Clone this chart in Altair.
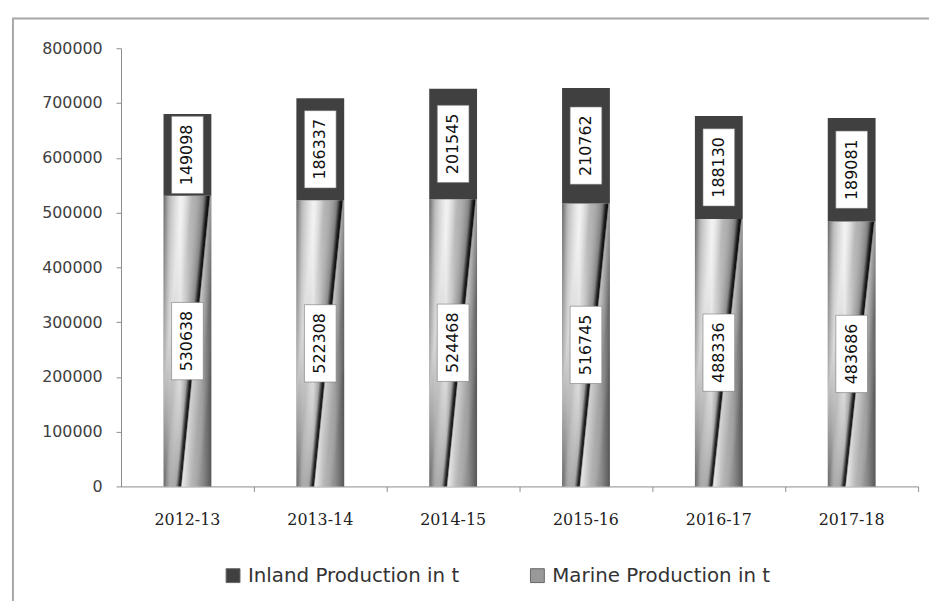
import altair as alt
import pandas as pd

years = ["2012-13", "2013-14", "2014-15", "2015-16", "2016-17", "2017-18"]
marine = [530638, 522308, 524468, 516745, 488336, 483686]
inland = [149098, 186337, 201545, 210762, 188130, 189081]
series_names = ["Inland Production in t", "Marine Production in t"]
y_ticks = [0, 100000, 200000, 300000, 400000, 500000, 600000, 700000, 800000]

wide = pd.DataFrame({"year": years, "marine": marine, "inland": inland})
wide["total"] = wide["marine"] + wide["inland"]
wide["series"] = series_names[0]

labels = pd.DataFrame({
    "year": years * 2,
    "value": inland + marine,
    "mid": [m + i / 2 for m, i in zip(marine, inland)] + [m / 2 for m in marine],
})

x_enc = alt.X(
    "year:N", sort=years,
    scale=alt.Scale(paddingInner=0.64, paddingOuter=0.32),
    axis=alt.Axis(title=None, labelAngle=0, bandPosition=1.889, tickSize=5,
                  labelFont="DejaVu Serif", labelFontSize=16, labelColor="#222222",
                  labelPadding=20, domainColor="#8c8c8c", tickColor="#8c8c8c"),
)
y_scale = alt.Scale(domain=[0, 800000], nice=False)

horiz = alt.Gradient(
    gradient="linear", x1=0, x2=1, y1=0, y2=0,
    stops=[
        alt.GradientStop(offset=0, color="#666666"),
        alt.GradientStop(offset=0.12, color="#aaaaaa"),
        alt.GradientStop(offset=0.35, color="#e4e4e4"),
        alt.GradientStop(offset=0.55, color="#b8b8b8"),
        alt.GradientStop(offset=0.8, color="#a0a0a0"),
        alt.GradientStop(offset=1, color="#606060"),
    ],
)
diag = alt.Gradient(
    gradient="linear", x1=0, y1=0, x2=1, y2=0.6,
    stops=[
        alt.GradientStop(offset=0, color="rgba(255,255,255,0)"),
        alt.GradientStop(offset=0.3, color="rgba(255,255,255,0.55)"),
        alt.GradientStop(offset=0.45, color="rgba(255,255,255,0)"),
        alt.GradientStop(offset=0.63, color="rgba(0,0,0,0.2)"),
        alt.GradientStop(offset=0.685, color="rgba(0,0,0,0.85)"),
        alt.GradientStop(offset=0.705, color="rgba(0,0,0,0.85)"),
        alt.GradientStop(offset=0.73, color="rgba(255,255,255,0.35)"),
        alt.GradientStop(offset=0.88, color="rgba(255,255,255,0)"),
        alt.GradientStop(offset=1, color="rgba(0,0,0,0.1)"),
    ],
)

frame = alt.Chart(pd.DataFrame({"a": [0]})).mark_rect(
    filled=False, stroke="#a8a8a8", strokeWidth=2
).encode(x=alt.value(-109), x2=alt.value(1000), y=alt.value(-30), y2=alt.value(700))

marine_base = alt.Chart(wide).mark_bar(fill=horiz).encode(
    x=x_enc,
    y=alt.Y("marine:Q", scale=y_scale,
            axis=alt.Axis(title=None, values=y_ticks, format="d", grid=False, tickSize=5,
                          labelFont="DejaVu Sans", labelFontSize=16, labelColor="#404040",
                          labelPadding=14, domainColor="#8c8c8c", tickColor="#8c8c8c")),
    y2=alt.value(442),
)
marine_over = alt.Chart(wide).mark_bar(fill=diag).encode(
    x=alt.X("year:N", sort=years), y=alt.Y("marine:Q"), y2=alt.value(442)
)
inland_bar = alt.Chart(wide).mark_bar().encode(
    x=alt.X("year:N", sort=years),
    y=alt.Y("total:Q"),
    y2="marine:Q",
    color=alt.Color(
        "series:N",
        scale=alt.Scale(domain=series_names, range=["#404040", "#999999"]),
        legend=alt.Legend(title=None, orient="none", legendX=103, legendY=522,
                          direction="horizontal", symbolType="square", symbolSize=196,
                          labelFont="DejaVu Sans", labelFontSize=20, labelColor="#333333",
                          labelLimit=0, columnPadding=68, labelOffset=5,
                          symbolStrokeColor="#666666", symbolStrokeWidth=1),
    ),
)
boxes = alt.Chart(labels).mark_point(
    shape="M-0.41,-1H0.41V1H-0.41Z", size=6084, filled=True,
    fill="white", stroke="#777777", strokeWidth=0.6, opacity=1,
).encode(x=alt.X("year:N", sort=years), y=alt.Y("mid:Q"))
texts = alt.Chart(labels).mark_text(
    angle=270, font="DejaVu Sans", fontSize=16, color="#111111",
    align="center", baseline="middle",
).encode(x=alt.X("year:N", sort=years), y=alt.Y("mid:Q"), text=alt.Text("value:Q", format="d"))

chart = alt.layer(frame, marine_base, marine_over, inland_bar, boxes, texts).properties(
    width=804, height=442,
    autosize=alt.AutoSizeParams(type="none"),
    padding={"left": 114, "top": 38, "right": 11, "bottom": 113},
).configure_view(stroke=None)

chart.save("out.html", embed_options={"renderer": "svg", "actions": False})
